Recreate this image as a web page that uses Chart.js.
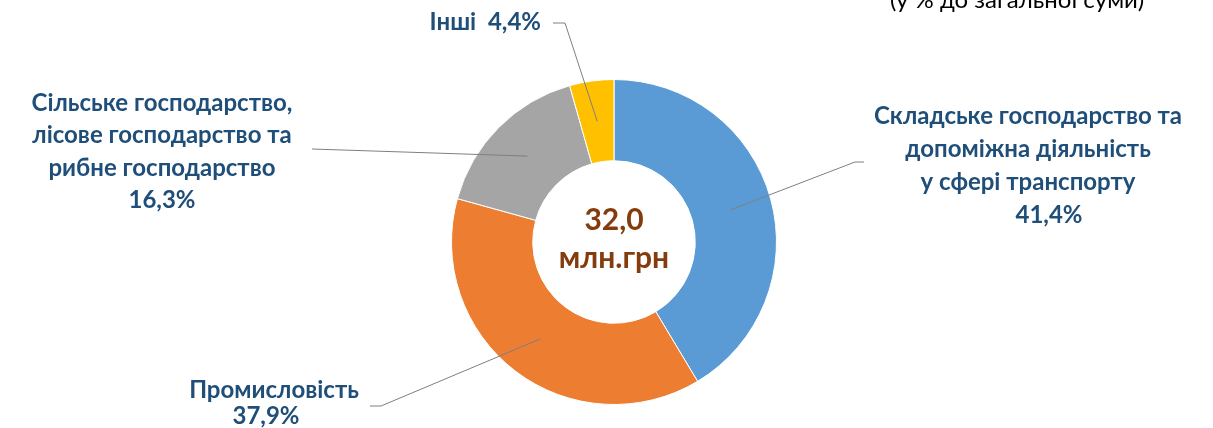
<!DOCTYPE html>
<html>

<head>
    <meta charset="utf-8" />
    <style>
        body { margin: 0; background: #fff; }
        #wrap { position: relative; width: 1213px; height: 428px; }
    </style>
</head>

<body>
    <div id="wrap">
        <canvas id="structChart" width="1213" height="428"></canvas>
    </div>

    <script src="https://cdn.jsdelivr.net/npm/chart.js@4.4.1/dist/chart.umd.min.js"></script>

    <script>
        // data
        const categories = [
            "Складське господарство та допоміжна діяльність у сфері транспорту",
            "Промисловість",
            "Сільське господарство, лісове господарство та рибне господарство",
            "Інші"
        ];
        const shares = [41.4, 37.9, 16.3, 4.4];
        const sliceColors = ["#5B9BD5", "#ED7D31", "#A5A5A5", "#FFC000"];
        const totalText = ["32,0", "млн.грн"];
        const subtitle = "(у % до загальної суми)";

        // label text lines (name part), the share is appended from shares[]
        const labelLines = [
            ["Складське господарство та", "допоміжна діяльність", "у сфері транспорту"],
            ["Промисловість"],
            ["Сільське господарство,", "лісове господарство та", "рибне господарство"],
            ["Інші"]
        ];

        function pct(v) {
            return v.toFixed(1).replace('.', ',') + '%';
        }

        // label layout: x, first line y, line step, where the share goes, leader start + elbow
        const labelLayout = [
            { x: 1028, y: 116, step: 33, pctX: 1049, lead: [[864, 162], [855, 162]] },
            { x: 274, y: 390, step: 26, pctX: 266, lead: [[370, 406], [381, 406]] },
            { x: 162, y: 103, step: 32.5, pctX: 162, lead: [[312, 149]] },
            { x: 0, y: 22, step: 0, inline: true, lead: [[553, 23], [565, 23]] }
        ];

        const labelFont = "bold 24px Lato, 'Open Sans', sans-serif";
        const labelColor = "#1F4E79";

        const labelsPlugin = {
            id: 'sideLabels',
            afterDatasetsDraw(chart) {
                const ctx = chart.ctx;
                const meta = chart.getDatasetMeta(0);
                ctx.save();

                // leader lines
                ctx.strokeStyle = "#7F7F7F";
                ctx.lineWidth = 1;
                meta.data.forEach((arc, i) => {
                    const c = arc.getCenterPoint();
                    const pts = labelLayout[i].lead;
                    ctx.beginPath();
                    ctx.moveTo(pts[0][0], pts[0][1]);
                    for (let k = 1; k < pts.length; k++) ctx.lineTo(pts[k][0], pts[k][1]);
                    ctx.lineTo(c.x, c.y);
                    ctx.stroke();
                });

                // label texts
                ctx.font = labelFont;
                ctx.fillStyle = labelColor;
                ctx.textBaseline = 'middle';
                labelLines.forEach((lines, i) => {
                    const L = labelLayout[i];
                    if (L.inline) {
                        ctx.textAlign = 'right';
                        ctx.fillText(lines.join(' ') + '  ' + pct(shares[i]), 541, L.y);
                        return;
                    }
                    ctx.textAlign = 'center';
                    lines.forEach((t, k) => ctx.fillText(t, L.x, L.y + k * L.step));
                    ctx.fillText(pct(shares[i]), L.pctX, L.y + lines.length * L.step);
                });

                // centre total
                const c0 = meta.data[0];
                ctx.fillStyle = "#843C0C";
                ctx.font = "bold 30px Lato, 'Open Sans', sans-serif";
                ctx.textAlign = 'center';
                ctx.fillText(totalText[0], c0.x, c0.y - 22);
                ctx.fillText(totalText[1], c0.x, c0.y + 16);

                // cropped subtitle at the top
                ctx.fillStyle = "#000";
                ctx.font = "24px Lato, 'Open Sans', sans-serif";
                ctx.textBaseline = 'alphabetic';
                ctx.fillText(subtitle, 1017, 8);

                ctx.restore();
            }
        };

        let chartCtx = document.getElementById('structChart');
        let structChart = new Chart(chartCtx, {
            type: 'doughnut',
            data: {
                labels: categories,
                datasets: [{
                    data: shares,
                    backgroundColor: sliceColors,
                    borderColor: "#ffffff",
                    borderWidth: 1
                }]
            },
            options: {
                responsive: false,
                animation: false,
                cutout: '50%',
                layout: {
                    padding: { top: 79, bottom: 23, left: 15, right: 0 }
                },
                plugins: {
                    legend: { display: false },
                    tooltip: { enabled: false }
                }
            },
            plugins: [labelsPlugin]
        });
    </script>
</body>

</html>
